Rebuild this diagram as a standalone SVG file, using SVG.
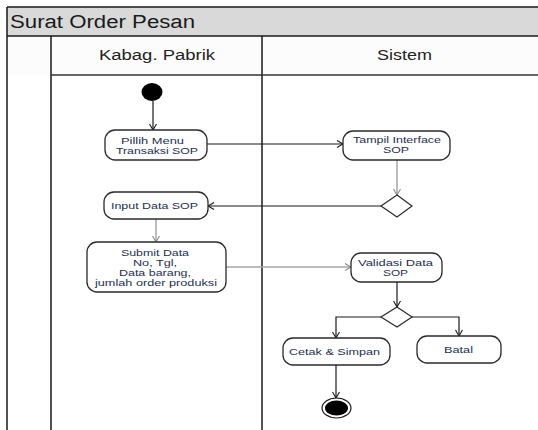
<svg xmlns="http://www.w3.org/2000/svg" width="538" height="430" viewBox="0 0 538 430">
<defs>
<style>
.lane{stroke:#1a1a1a;stroke-width:1.5;fill:none}
.node rect{fill:#ffffff;stroke:#2a2a2a;stroke-width:1.3}
.t{font-family:"Liberation Sans",Arial,sans-serif;font-size:9.5px;fill:#263050;text-anchor:middle}
.h{font-family:"Liberation Sans",Arial,sans-serif;font-size:14px;fill:#222222;text-anchor:middle}
.c{fill:none;stroke:#1a1a1a;stroke-width:1.2}
.g{fill:none;stroke:#a6a6a6;stroke-width:1.5}
</style>
<marker id="ab" markerWidth="8" markerHeight="8" refX="7" refY="4" orient="auto" markerUnits="userSpaceOnUse">
<path d="M1,0.5 L7,4 L1,7.5" fill="none" stroke="#1a1a1a" stroke-width="1.1"/>
</marker>
<marker id="ag" markerWidth="8" markerHeight="8" refX="7" refY="4" orient="auto" markerUnits="userSpaceOnUse">
<path d="M1,0.5 L7,4 L1,7.5" fill="none" stroke="#8a8a8a" stroke-width="1.1"/>
</marker>
</defs>
<rect width="538" height="430" fill="#ffffff"/>
<g id="swimlanes">
<rect x="7" y="7" width="540" height="29" fill="#d9d9d9"/>
<rect x="7" y="36" width="540" height="39" fill="#fcfcfc"/>
<path class="lane" d="M7,7 H538 M7,7 V430 M7,36 H538 M51,36 V430 M262,36 V430"/>
<path d="M51,75 H538" stroke="#333" stroke-width="1.3"/>
<text x="10" y="28" font-family="'Liberation Sans',Arial,sans-serif" font-size="18" fill="#1a1a1a" textLength="185" lengthAdjust="spacingAndGlyphs">Surat Order Pesan</text>
<text class="h" x="157" y="60" textLength="116" lengthAdjust="spacingAndGlyphs">Kabag. Pabrik</text>
<text class="h" x="404.5" y="60" textLength="55" lengthAdjust="spacingAndGlyphs">Sistem</text>
</g>
<g id="connectors">
<path class="c" d="M153,101 V130" marker-end="url(#ab)"/>
<path class="c" d="M207,144 H343" marker-end="url(#ab)"/>
<path class="g" d="M397,160 V195" marker-end="url(#ag)"/>
<path class="c" d="M381,206 H208" marker-end="url(#ab)"/>
<path class="g" d="M156,219 V242" marker-end="url(#ag)"/>
<path class="g" d="M226,267 H351" marker-end="url(#ag)"/>
<path class="c" d="M397,282 V307" marker-end="url(#ab)"/>
<path class="c" d="M381,317 H336 V338" marker-end="url(#ab)"/>
<path class="c" d="M412,317 H459 V336" marker-end="url(#ab)"/>
<path class="c" d="M336,365 V398" marker-end="url(#ab)"/>
</g>
<g id="start">
<ellipse cx="152" cy="92" rx="10.5" ry="9" fill="#000"/>
</g>
<g id="pilih-menu" class="node">
<rect x="105" y="130" width="102" height="30" rx="10"/>
<text class="t" x="152.5" y="144" textLength="63" lengthAdjust="spacingAndGlyphs">Pillih Menu</text>
<text class="t" x="157" y="154" textLength="82" lengthAdjust="spacingAndGlyphs">Transaksi SOP</text>
</g>
<g id="tampil-interface" class="node">
<rect x="343" y="131" width="107" height="29" rx="10"/>
<text class="t" x="397" y="142.5" textLength="88" lengthAdjust="spacingAndGlyphs">Tampil Interface</text>
<text class="t" x="396" y="152.5" textLength="26" lengthAdjust="spacingAndGlyphs">SOP</text>
</g>
<g id="decision1">
<polygon points="397,195 412,206 397,217 381,206" fill="#fff" stroke="#2a2a2a" stroke-width="1.2"/>
</g>
<g id="input-data" class="node">
<rect x="104" y="192" width="104" height="27" rx="10"/>
<text class="t" x="154.5" y="209" textLength="87" lengthAdjust="spacingAndGlyphs">Input Data SOP</text>
</g>
<g id="submit-data" class="node">
<rect x="87" y="242" width="139" height="50" rx="10"/>
<text class="t" x="155" y="255.5" textLength="68" lengthAdjust="spacingAndGlyphs">Submit Data</text>
<text class="t" x="155" y="266" textLength="44" lengthAdjust="spacingAndGlyphs">No, Tgl,</text>
<text class="t" x="155" y="276" textLength="72" lengthAdjust="spacingAndGlyphs">Data barang,</text>
<text class="t" x="156" y="286" textLength="122" lengthAdjust="spacingAndGlyphs">jumlah order produksi</text>
</g>
<g id="validasi" class="node">
<rect x="351" y="253" width="91" height="29" rx="10"/>
<text class="t" x="395.5" y="265.5" textLength="75" lengthAdjust="spacingAndGlyphs">Validasi Data</text>
<text class="t" x="395.5" y="275.5" textLength="25" lengthAdjust="spacingAndGlyphs">SOP</text>
</g>
<g id="decision2">
<polygon points="397,307 412,317 397,327 381,317" fill="#fff" stroke="#2a2a2a" stroke-width="1.2"/>
</g>
<g id="cetak-simpan" class="node">
<rect x="283" y="338" width="107" height="27" rx="10"/>
<text class="t" x="334.5" y="354.5" textLength="91" lengthAdjust="spacingAndGlyphs">Cetak &amp; Simpan</text>
</g>
<g id="batal" class="node">
<rect x="417" y="336" width="84" height="27" rx="10"/>
<text class="t" x="458.5" y="352.5" textLength="29" lengthAdjust="spacingAndGlyphs">Batal</text>
</g>
<g id="end">
<ellipse cx="336.5" cy="408" rx="14.5" ry="10" fill="#fff" stroke="#1a1a1a" stroke-width="1.2"/>
<ellipse cx="336.5" cy="408" rx="11.5" ry="7.5" fill="#000"/>
</g>
</svg>
